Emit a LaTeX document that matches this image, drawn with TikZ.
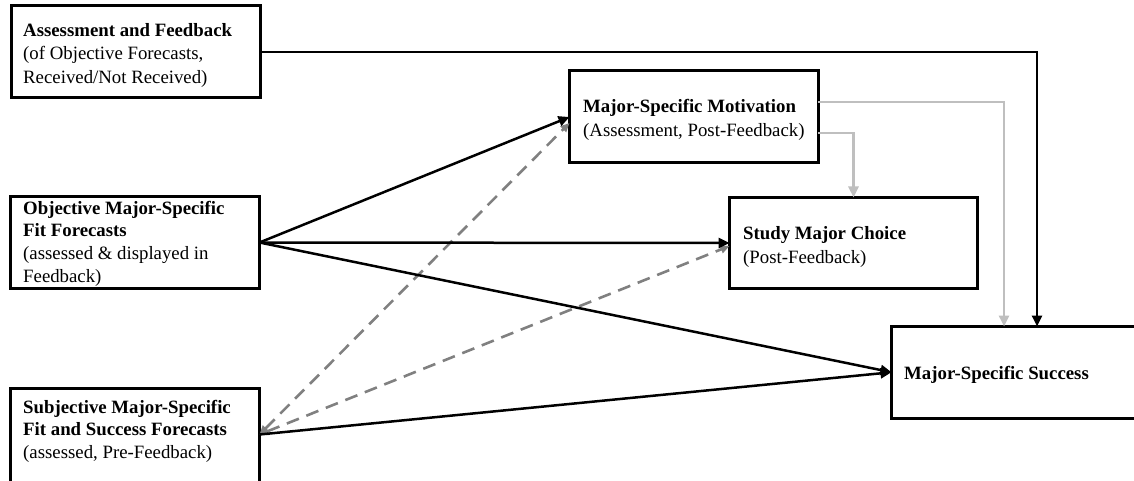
\documentclass[tikz,border=0pt]{standalone}
\usepackage{fontspec}
\setmainfont{Liberation Serif}
\usetikzlibrary{arrows.meta}
\definecolor{lightline}{HTML}{BFBFBF}
\definecolor{dashline}{HTML}{808080}
% stack of lines whose baseline is the first line; #1 = line distance
\newcommand\txtstack[2][23.5pt]{\vtop{\baselineskip=#1\lineskiplimit=-10pt #2}}
\tikzset{
  box/.style={draw=black, line width=3pt, rectangle, inner sep=0pt, outer sep=0pt},
  txt/.style={anchor=base west, inner sep=0pt, font=\fontsize{18.8}{24}\selectfont},
  solidarrow/.style={draw=black, line width=2.5pt, -{Triangle[length=11pt,width=10pt]}},
  greyarrow/.style={draw=lightline, line width=2.5pt, -{Triangle[length=11pt,width=10pt]}},
  dasharrow/.style={draw=dashline, line width=2.6pt, dash pattern=on 13pt off 8pt,
    {Triangle[length=9pt,width=8pt]}-{Triangle[length=9pt,width=8pt]}},
}
\begin{document}
\begin{tikzpicture}[x=1pt, y=-1pt]
\useasboundingbox (0,0) rectangle (1134,481);

% boxes
\node[box, minimum width=249pt, minimum height=92pt] (A) at (136,52) {};
\node[box, minimum width=248.5pt, minimum height=92pt] (Mot) at (693.75,117) {};
\node[box, minimum width=249.5pt, minimum height=92pt] (Obj) at (134.75,242.5) {};
\node[box, minimum width=249.5pt, minimum height=120pt] (Subj) at (134.75,448.5) {};
\node[box, minimum width=248pt, minimum height=91pt] (Study) at (853.5,243) {};
\node[box, minimum width=253.5pt, minimum height=91.5pt] (Success) at (1018.25,372.25) {};

% box texts
\node[txt] (tA) at (23,36.5) {\txtstack{\hbox{\bfseries Assessment and Feedback}\hbox{(of Objective Forecasts,}\hbox{Received/Not Received)}}};
\node[txt] (tMot) at (583,113) {\txtstack[24pt]{\hbox{\bfseries Major-Specific Motivation}\hbox{(Assessment, Post-Feedback)}}};
\node[txt] (tObj) at (23,214) {\txtstack[22.7pt]{\hbox{\bfseries Objective Major-Specific}\hbox{\bfseries Fit Forecasts}\hbox{(assessed \& displayed in}\hbox{Feedback)}}};
\node[txt] (tSubj) at (23,413) {\txtstack[22.7pt]{\hbox{\bfseries Subjective Major-Specific}\hbox{\bfseries Fit and Success Forecasts}\hbox{(assessed, Pre-Feedback)}}};
\node[txt] (tStudy) at (743,239) {\txtstack[24pt]{\hbox{\bfseries Study Major Choice}\hbox{(Post-Feedback)}}};
\node[txt] (tSuccess) at (904,379) {\bfseries Major-Specific Success};

% connectors
\coordinate (sj) at ([yshift=14pt]Subj.east);

\draw[solidarrow] (A.east) -| ([xshift=145.5pt]Success.north west);
\draw[greyarrow] ([yshift=15pt]Mot.east) -| ([xshift=112.5pt]Success.north west);
\draw[greyarrow] ([yshift=-16pt]Mot.east) -| (Study.north);

\draw[dasharrow] (sj) -- ([yshift=-6pt]Mot.west);
\draw[dasharrow] (sj) -- ([yshift=-3pt]Study.west);

\draw[solidarrow] (Obj.east) -- (Mot.west);
\draw[solidarrow] (Obj.east) -- (Study.west);
\draw[solidarrow] (Obj.east) -- (Success.west);
\draw[solidarrow] (sj) -- (Success.west);
\end{tikzpicture}
\end{document}
